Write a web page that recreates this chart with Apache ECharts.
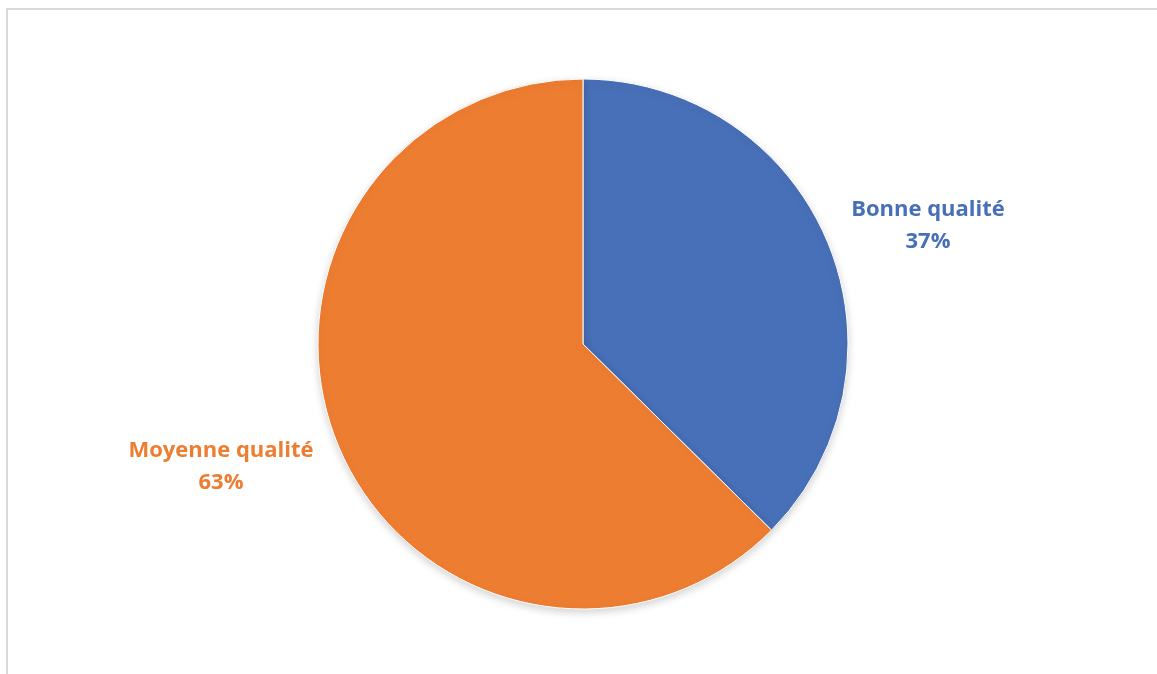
<!DOCTYPE html>
<html>
<head>
<meta charset="utf-8">
<script src="https://cdn.jsdelivr.net/npm/echarts@6/dist/echarts.min.js"></script>
<style>
  html, body { margin: 0; padding: 0; background: #fff; overflow: hidden; }
  #frame { position: absolute; left: 6px; top: 8px; width: 1200px; height: 720px; border: 2px solid #d9d9d9; box-sizing: border-box; }
  #chart { position: absolute; left: 0; top: 0; width: 1157px; height: 674px; }
</style>
</head>
<body>
<div id="frame"></div>
<div id="chart"></div>
<script>
const categories = ['Bonne qualité', 'Moyenne qualité'];
const values = [37.4, 62.6];
const colors = ['#4870B8', '#ED7D31'];
// label anchor points (label placement only)
const labelPos = [[928, 226], [221, 467]];

const chart = echarts.init(document.getElementById('chart'));

const chartOption = {
  animation: false,
  series: [
    {
      type: 'pie',
      center: [583, 344],
      radius: 265,
      startAngle: 90,
      clockwise: true,
      itemStyle: {
        borderColor: '#ffffff',
        borderWidth: 1,
        shadowBlur: 8,
        shadowColor: 'rgba(0,0,0,0.18)',
        shadowOffsetY: 3
      },
      labelLine: { show: false },
      label: {
        show: true,
        position: 'outside',
        formatter: (p) => p.name + '\n' + Math.round(p.value) + '%',
        fontFamily: 'Open Sans',
        fontWeight: 'bold',
        fontSize: 22,
        lineHeight: 32,
        align: 'center'
      },
      labelLayout: (params) => ({
        x: labelPos[params.dataIndex][0],
        y: labelPos[params.dataIndex][1],
        align: 'center',
        verticalAlign: 'middle'
      }),
      data: categories.map((name, i) => ({
        name: name,
        value: values[i],
        itemStyle: { color: colors[i] },
        label: { color: colors[i] }
      }))
    }
  ]
};

chart.setOption(chartOption);
</script>
</body>
</html>
